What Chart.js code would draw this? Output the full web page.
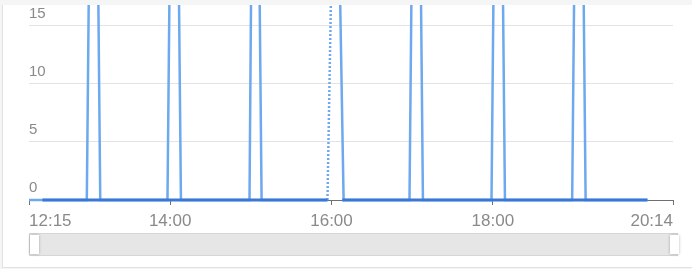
<!DOCTYPE html>
<html>
<head>
<meta charset="utf-8">
<script src="https://cdn.jsdelivr.net/npm/chart.js@4.4.0/dist/chart.umd.min.js"></script>
<style>
  html, body { margin: 0; padding: 0; background: #f5f5f5; overflow: hidden; }
  .card { position: absolute; left: 2px; top: 5px; width: 700px; height: 262px; background: #fff;
          border-left: 1px solid #e2e2e2; border-bottom: 1px solid #e2e2e2; }
  #chart { position: absolute; left: 0; top: 0; }
</style>
</head>
<body>
<div class="card"></div>
<canvas id="chart" width="692" height="269"></canvas>
<script>
// axis ticks
const xTickLabels = ['12:15', '14:00', '16:00', '18:00', '20:14'];
const yTickValues = [0, 5, 10, 15];

// light series: hourly spikes (tops run off the top of the view)
const spikeTimes  = ['12:15', '12:58', '13:03', '13:08', '13:58', '14:03', '14:08', '14:59', '15:03', '15:08',
                     '15:57', '16:00', '16:03', '16:09', '16:58', '17:03', '17:08', '17:59', '18:04', '18:09',
                     '18:59', '19:04', '19:09', '19:55'];
const spikeValues = [0, 0, 60, 0, 0, 60, 0, 0, 60, 0,
                     0, null, 40, 0, 0, 60, 0, 0, 60, 0,
                     0, 60, 0, 0];

// dark series: flat at zero, missing around 16:00
const baseTimes  = ['12:25', '15:57', '16:03', '16:08', '19:55'];
const baseValues = [0, 0, null, 0, 0];

function toMin(t) {
  const [h, m] = t.split(':').map(Number);
  return h * 60 + m;
}
function fmt(v) {
  return Math.floor(v / 60) + ':' + String(v % 60).padStart(2, '0');
}

const sliderPlugin = {
  id: 'slider',
  afterDraw(chart) {
    const { ctx, chartArea: a } = chart;
    const top = a.bottom + 33, h = 23;
    const left = a.left, right = a.right + 5;
    ctx.save();
    ctx.fillStyle = '#e6e6e6';
    ctx.fillRect(left, top, right - left, h);
    ctx.strokeStyle = '#d6d6d6';
    ctx.lineWidth = 1;
    ctx.strokeRect(left + 0.5, top + 0.5, right - left - 1, h - 1);
    ctx.shadowColor = 'rgba(0,0,0,0.3)';
    ctx.shadowBlur = 3;
    ctx.fillStyle = '#fff';
    ctx.fillRect(left + 1, top + 2, 9, h - 4);
    ctx.fillRect(right - 8, top + 2, 9, h - 4);
    ctx.restore();
  }
};

const ctx = document.getElementById('chart').getContext('2d');
new Chart(ctx, {
  type: 'line',
  data: {
    datasets: [{
      label: 'base',
      data: baseTimes.map((t, i) => ({ x: toMin(t), y: baseValues[i] })),
      borderColor: '#3a78d6',
      borderWidth: 3,
      pointRadius: 0,
      spanGaps: false,
      order: 0,
      clip: { left: false, top: 0, right: false, bottom: false }
    }, {
      label: 'spikes',
      data: spikeTimes.map((t, i) => ({ x: toMin(t), y: spikeValues[i] })),
      borderColor: '#6ea8ef',
      borderWidth: 2.5,
      pointRadius: 0,
      spanGaps: true,
      order: 1,
      segment: {
        borderDash: c => (c.p0.skip || c.p1.skip) ? [2, 2] : undefined
      },
      clip: { left: false, top: 0, right: false, bottom: false }
    }]
  },
  options: {
    responsive: false,
    animation: false,
    events: [],
    layout: { padding: { left: 29, right: 19, top: 5, bottom: 31.6 } },
    plugins: { legend: { display: false }, tooltip: { enabled: false } },
    scales: {
      x: {
        type: 'linear',
        min: toMin('12:15'),
        max: toMin('20:14'),
        afterBuildTicks: s => { s.ticks = xTickLabels.map(t => ({ value: toMin(t) })); },
        afterFit: s => { s.paddingLeft = 0; s.paddingRight = 0; },
        ticks: {
          align: 'inner', maxRotation: 0, autoSkip: false, padding: 6,
          color: '#8a8a8a', font: { family: 'Liberation Sans', size: 17 },
          callback: v => fmt(v)
        },
        grid: { drawOnChartArea: false, drawTicks: true, tickLength: 5, tickColor: '#6e7079' },
        border: { display: true, color: '#6e7079', width: 1 }
      },
      y: {
        min: 0,
        max: 16.75,
        afterBuildTicks: s => { s.ticks = yTickValues.map(v => ({ value: v })); },
        afterFit: s => { s.paddingTop = 0; s.paddingBottom = 0; },
        ticks: {
          mirror: true, padding: 0, labelOffset: -12,
          color: '#8a8a8a', font: { family: 'Liberation Sans', size: 15 }
        },
        grid: { color: '#e3e3e3', drawTicks: false },
        border: { display: false }
      }
    }
  },
  plugins: [sliderPlugin]
});
</script>
</body>
</html>
